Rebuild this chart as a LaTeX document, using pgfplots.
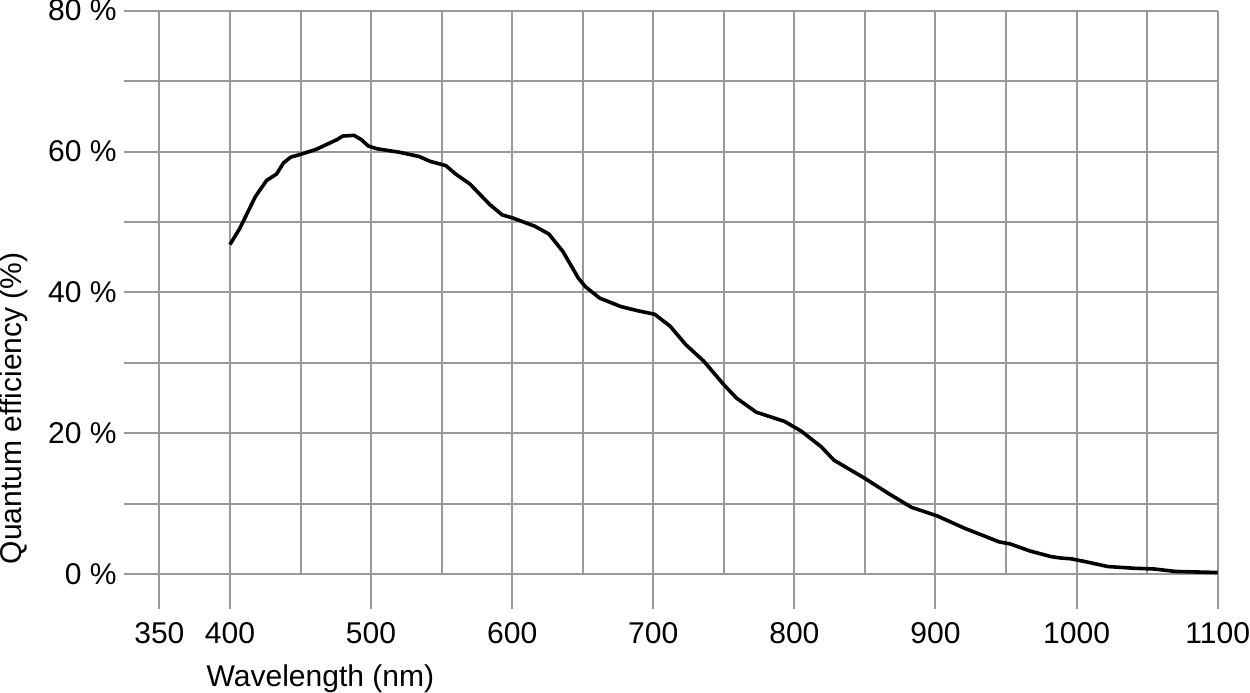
\documentclass[border=0pt]{standalone}
\usepackage{pgfplots}
\pgfplotsset{compat=1.18}
\usepackage{fontspec}
\setmainfont{Liberation Sans}
\definecolor{gridgray}{RGB}{153,153,153}
\pgfplotstableread{
x y
400 46.8
407 49.1
418 53.6
426 55.9
433 56.8
438 58.4
443 59.2
450 59.6
461 60.3
476 61.7
480 62.2
488 62.3
493 61.7
498 60.8
504 60.4
520 59.9
534 59.3
542 58.6
553 58.0
560 56.8
570 55.4
584 52.5
593 51.0
600 50.6
616 49.4
626 48.3
636 45.8
647 42.0
652 40.8
662 39.2
677 38.0
689 37.4
701 36.9
712 35.2
723 32.6
736 30.2
750 26.9
759 25.0
773 23.0
793 21.7
805 20.3
819 18.1
828 16.2
850 13.6
868 11.3
883 9.5
901 8.3
921 6.5
935 5.4
945 4.6
953 4.3
967 3.3
982 2.5
989 2.3
996 2.2
1006 1.8
1022 1.1
1041 0.85
1055 0.75
1070 0.4
1100 0.25
}\qedata
\begin{document}
\begin{tikzpicture}
\begin{axis}[
  scale only axis,
  width=546pt, height=299pt,
  xmin=325, xmax=1100, ymin=-5, ymax=80,
  axis line style={draw=none},
  major tick length=0pt,
  xtick={350,400,500,600,700,800,900,1000,1100},
  ytick={0,10,20,30,40,50,60,70,80},
  yticklabels={0 \%,,20 \%,,40 \%,,60 \%,,80 \%},
  grid=major,
  major grid style={draw=gridgray, line width=1pt},
  /pgf/number format/assume math mode=true,
  /pgf/number format/1000 sep={},
  font=\fontsize{15}{18}\selectfont,
  tick label style={font=\fontsize{15}{18}\selectfont},
  xticklabel style={anchor=center, yshift=-12pt, inner sep=0pt},
  yticklabel style={anchor=east, xshift=-3.5pt, inner sep=0pt},
  xlabel={Wavelength (nm)},
  ylabel={Quantum efficiency (\%)},
  xlabel style={at={(axis description cs:0.1795,-0.1154)}, anchor=center, inner sep=0pt},
  ylabel style={at={(axis description cs:-0.1007,0.336)}, anchor=center, inner sep=0pt},
  clip=false,
]
\pgfplotsinvokeforeach{450,550,650,750,850,950,1050}{
  \draw[gridgray, line width=1pt] (axis cs:#1,0) -- (axis cs:#1,80);
}
\addplot[black, line width=1.8pt, line join=round, no marks] table[x=x, y=y] {\qedata};
\end{axis}
\end{tikzpicture}
\end{document}
